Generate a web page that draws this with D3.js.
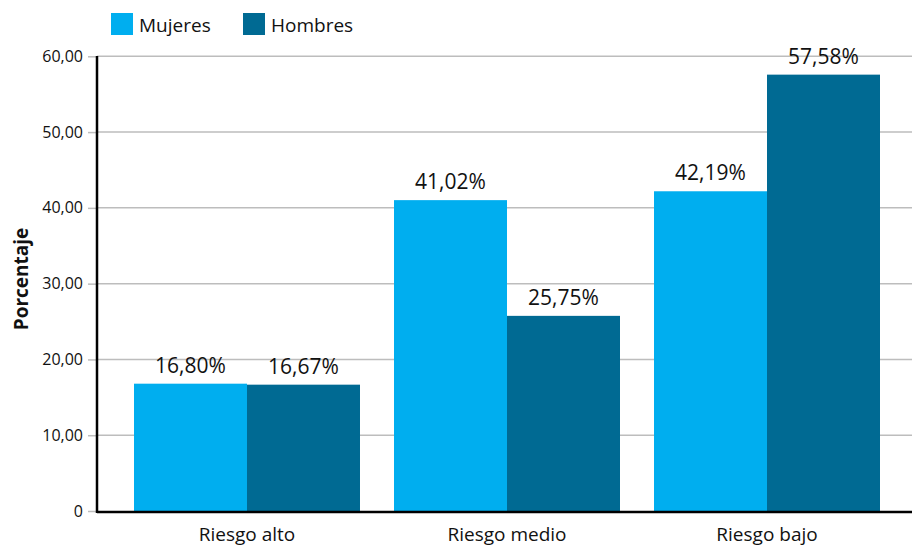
<!DOCTYPE html>
<html><head><meta charset="utf-8">
<script src="https://cdn.jsdelivr.net/npm/d3@7"></script>
<style>body{margin:0;background:#fff}svg{display:block;font-family:"Open Sans",sans-serif}</style>
</head><body><svg id="c" width="912" height="548"></svg>
<script>
const categories = ["Riesgo alto", "Riesgo medio", "Riesgo bajo"];
const seriesNames = ["Mujeres", "Hombres"];
const mujeres = [16.80, 41.02, 42.19];
const hombres = [16.67, 25.75, 57.58];
const yTicks = [0, 10, 20, 30, 40, 50, 60];
const colors = ["#00aeef", "#006a93"];

const svg = d3.select("#c");
const x0 = 97, yBase = 511;
const y = d3.scaleLinear().domain([0, 60]).range([yBase, 56.3]);
const x = d3.scaleBand().domain(categories).range([x0, 917]).paddingInner(0.1308).paddingOuter(0.1423);
const xs = d3.scaleBand().domain(seriesNames).range([0, x.bandwidth()]);
const fmt = v => v === 0 ? "0" : v.toFixed(2).replace(".", ",");

// grid + ticks
const ya = svg.append("g").attr("transform", `translate(${x0},0)`)
  .call(d3.axisLeft(y).tickValues(yTicks).tickFormat(fmt).tickSize(9).tickPadding(5));
ya.select(".domain").remove();
ya.selectAll(".tick line").attr("stroke", "#bdbdbd").attr("stroke-width", 1.5);
ya.selectAll(".tick text").attr("font-size", 16).attr("font-family", "Open Sans").attr("fill", "#111");
svg.append("g").selectAll("line").data(yTicks.filter(t => t > 0)).join("line")
  .attr("x1", x0).attr("x2", 912).attr("y1", d => y(d)).attr("y2", d => y(d))
  .attr("stroke", "#bdbdbd").attr("stroke-width", 1.5);

const rows = categories.map((c, i) => ({c, vals: [mujeres[i], hombres[i]]}));
const g = svg.append("g").selectAll("g").data(rows).join("g")
  .attr("transform", d => `translate(${x(d.c)},0)`);
g.selectAll("rect").data(d => d.vals.map((v, j) => ({v, s: seriesNames[j], j}))).join("rect")
  .attr("x", d => xs(d.s)).attr("width", xs.bandwidth())
  .attr("y", d => y(d.v)).attr("height", d => yBase - y(d.v))
  .attr("fill", d => colors[d.j]);
g.selectAll("text").data(d => d.vals.map((v, j) => ({v, s: seriesNames[j]}))).join("text")
  .attr("x", d => xs(d.s) + xs.bandwidth() / 2).attr("y", d => y(d.v) - 11)
  .attr("text-anchor", "middle").attr("font-size", 21).attr("fill", "#111")
  .text(d => d.v.toFixed(2).replace(".", ",") + "%");

// axes lines
svg.append("line").attr("x1", x0).attr("x2", 912).attr("y1", yBase + 1).attr("y2", yBase + 1)
  .attr("stroke", "#000").attr("stroke-width", 2.5);
svg.append("line").attr("x1", x0).attr("x2", x0).attr("y1", 56).attr("y2", yBase + 2)
  .attr("stroke", "#000").attr("stroke-width", 2.5);

// x labels
svg.append("g").selectAll("text").data(categories).join("text")
  .attr("x", d => x(d) + x.bandwidth() / 2).attr("y", 541)
  .attr("text-anchor", "middle").attr("font-size", 19).attr("fill", "#111").text(d => d);

// y title
svg.append("text").attr("transform", "translate(28,279) rotate(-90)")
  .attr("text-anchor", "middle").attr("font-size", 19).attr("font-weight", "bold").attr("fill", "#111")
  .text("Porcentaje");

// legend
const legX = [111, 243];
const lg = svg.append("g").selectAll("g").data(seriesNames).join("g")
  .attr("transform", (d, i) => `translate(${legX[i]},13)`);
lg.append("rect").attr("width", 22).attr("height", 22).attr("fill", (d, i) => colors[i]);
lg.append("text").attr("x", 28).attr("y", 18.5).attr("font-size", 19).attr("fill", "#111").text(d => d);
</script></body></html>
